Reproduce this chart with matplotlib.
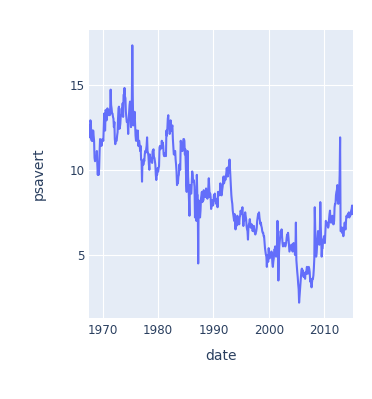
import matplotlib
matplotlib.use("Agg")
import matplotlib.pyplot as plt
import matplotlib.dates as mdates
import pandas as pd

# monthly personal savings rate, starting 1967-07
start_month = "1967-07-01"
psavert = [
    12.6, 12.6, 11.9, 12.9, 12.8, 11.8,
    11.7, 12.3, 11.7, 12.3, 12.0, 11.7, 10.7, 10.5, 10.6, 10.8, 10.6, 11.1,
    10.3, 9.7, 10.2, 9.7, 10.1, 11.1, 11.8, 11.5, 11.6, 11.4, 11.6, 11.8,
    11.8, 11.7, 12.4, 13.3, 12.4, 12.3, 13.5, 13.4, 12.9, 13.1, 13.6, 13.2,
    13.3, 13.3, 13.5, 13.2, 13.6, 14.7, 13.8, 13.6, 13.3, 13.3, 13.1, 13.0,
    12.5, 12.8, 11.8, 11.5, 11.7, 11.7, 11.7, 12.0, 12.2, 13.0, 13.6, 13.7,
    12.4, 12.5, 12.7, 13.2, 13.2, 13.6, 13.2, 13.9, 13.1, 14.4, 14.4, 14.8,
    14.3, 14.2, 13.4, 13.1, 12.8, 12.8, 12.8, 12.1, 12.9, 13.4, 13.8, 14.0,
    13.2, 12.5, 12.7, 14.2, 17.3, 14.3, 12.6, 13.0, 13.0, 13.4, 12.7, 12.0,
    11.7, 12.3, 12.2, 11.7, 12.3, 11.4, 11.7, 11.7, 11.4, 11.1, 11.4, 10.6,
    10.6, 9.3, 10.5, 10.5, 10.3, 10.6, 10.5, 10.9, 11.1, 11.0, 11.2, 11.4,
    11.9, 11.1, 11.0, 10.8, 10.3, 10.0, 10.9, 10.5, 10.6, 10.7, 10.5, 10.4,
    11.1, 11.1, 11.2, 10.7, 10.7, 10.5, 10.3, 9.7, 9.4, 9.7, 9.7, 10.1,
    9.9, 10.1, 10.2, 11.3, 11.4, 11.2, 11.3, 11.3, 11.7, 11.3, 11.6, 11.4,
    10.9, 10.8, 10.8, 10.9, 11.0, 10.8, 12.3, 12.0, 12.4, 13.0, 13.2, 12.5,
    12.7, 12.1, 12.2, 12.9, 12.3, 12.3, 12.5, 12.6, 11.8, 11.3, 10.9, 10.9,
    11.1, 11.1, 10.6, 10.3, 9.9, 9.1, 9.6, 9.2, 9.6, 9.7, 10.3, 10.1,
    10.0, 11.7, 11.5, 11.5, 11.1, 11.1, 11.6, 11.8, 11.8, 11.7, 10.9, 11.2,
    10.3, 9.1, 8.7, 9.9, 11.1, 9.6, 9.1, 8.2, 7.3, 9.1, 9.0, 8.6,
    8.6, 9.3, 9.9, 9.7, 9.3, 9.4, 9.3, 9.0, 7.2, 8.4, 8.8, 7.0,
    9.7, 8.5, 8.5, 4.5, 8.2, 7.7, 7.5, 7.2, 7.6, 8.3, 8.5, 8.7,
    8.1, 8.6, 8.2, 8.8, 8.4, 8.4, 8.6, 8.4, 8.9, 8.6, 8.4, 8.3,
    8.5, 9.0, 9.5, 9.0, 8.4, 8.6, 8.4, 7.7, 7.9, 8.2, 8.2, 7.9,
    8.0, 8.5, 8.5, 8.6, 8.2, 8.2, 8.0, 8.1, 8.3, 7.8, 8.7, 8.5,
    8.7, 8.5, 8.6, 9.2, 8.8, 8.5, 8.5, 8.8, 9.0, 9.3, 9.6, 9.2,
    9.3, 9.6, 9.4, 9.6, 9.8, 10.1, 9.8, 9.6, 9.8, 10.2, 10.1, 10.6,
    10.0, 9.3, 9.0, 8.5, 8.2, 8.0, 7.6, 7.4, 7.2, 7.0, 7.4, 6.9,
    6.5, 7.2, 6.7, 7.0, 7.3, 6.9, 6.8, 7.0, 6.8, 7.2, 7.3, 7.6,
    7.5, 7.4, 7.6, 7.8, 7.3, 6.7, 7.1, 7.0, 7.3, 7.5, 7.3, 7.1,
    6.7, 6.5, 6.4, 5.9, 6.6, 6.8, 6.9, 7.1, 6.8, 6.6, 6.7, 6.8,
    6.6, 6.4, 6.5, 6.7, 6.7, 6.4, 6.3, 6.2, 6.3, 6.4, 6.6, 7.0,
    7.2, 7.4, 7.4, 7.5, 7.2, 7.0, 6.8, 6.9, 6.7, 6.6, 6.4, 6.3,
    6.3, 6.1, 6.1, 5.7, 5.4, 5.2, 5.0, 4.9, 4.3, 5.0, 4.8, 4.6,
    5.4, 5.0, 4.8, 5.1, 5.1, 5.0, 5.2, 5.0, 4.5, 4.3, 4.6, 4.8,
    5.3, 5.3, 5.5, 5.1, 4.9, 5.2, 5.6, 7.0, 6.4, 3.5, 4.9, 5.5,
    5.8, 6.1, 6.4, 6.2, 6.5, 6.1, 5.7, 5.5, 5.6, 5.6, 5.7, 5.6,
    5.5, 5.6, 5.7, 6.0, 6.2, 5.9, 6.3, 6.0, 5.6, 5.2, 5.3, 5.4,
    5.5, 5.6, 5.6, 5.3, 5.2, 5.6, 5.7, 5.5, 5.4, 5.0, 5.3, 6.9,
    4.7, 4.3, 4.0, 3.7, 3.3, 3.0, 2.2, 2.6, 3.0, 3.4, 3.8, 4.1,
    4.2, 4.0, 4.1, 3.8, 3.7, 3.9, 3.8, 3.6, 4.0, 3.9, 4.1, 4.3,
    3.9, 3.9, 4.1, 4.3, 4.2, 4.0, 3.5, 3.4, 3.6, 3.1, 3.4, 3.6,
    3.6, 3.8, 4.2, 4.8, 7.8, 6.5, 5.2, 4.9, 5.1, 5.6, 6.0, 6.4,
    6.3, 5.9, 5.6, 6.3, 8.1, 6.7, 5.7, 4.9, 5.4, 5.4, 5.9, 5.9,
    6.1, 5.8, 5.7, 6.4, 7.0, 6.9, 6.8, 6.9, 6.7, 6.6, 6.7, 7.1,
    7.4, 7.6, 7.0, 6.9, 6.9, 7.2, 7.3, 7.2, 6.8, 6.8, 7.0, 7.8,
    8.0, 8.0, 8.5, 8.7, 8.8, 9.1, 8.2, 8.0, 8.2, 8.8, 9.7, 11.9,
    6.4, 6.4, 6.6, 6.3, 6.4, 6.6, 6.1, 6.4, 6.6, 6.9, 6.5, 6.5,
    7.1, 7.3, 7.2, 7.3, 7.4, 7.4, 7.5, 7.2, 7.4, 7.3, 7.4, 7.6,
    7.7, 7.9, 7.4, 7.6,
]
dates = pd.date_range(start_month, periods=len(psavert), freq="MS")

x_ticks = [1970, 1980, 1990, 2000, 2010]
y_ticks = [5, 10, 15]

BG = "#E5ECF6"
LINE = "#636EFA"
TXT = "#2a3f5f"

plt.rcParams['font.family'] = ['DejaVu Sans']

fig = plt.figure(figsize=(3.72, 3.99), dpi=100)
ax = fig.add_axes([89 / 372, 1 - 318 / 399, (353 - 89) / 372, (318 - 30) / 399])
ax.set_facecolor(BG)
ax.plot(dates, psavert, color=LINE, linewidth=1.5, solid_joinstyle="round")

ax.set_xlim(dates[0], dates[-1])
ax.set_ylim(1.3, 18.2)
ax.set_xticks([pd.Timestamp(f"{y}-01-01") for y in x_ticks])
ax.xaxis.set_major_formatter(mdates.DateFormatter("%Y"))
ax.set_yticks(y_ticks)

ax.grid(True, color="white", linewidth=0.8)
ax.set_axisbelow(True)
for s in ax.spines.values():
    s.set_visible(False)
ax.tick_params(axis="x", length=0, labelsize=8.6, labelcolor=TXT, pad=4)
ax.tick_params(axis="y", length=0, labelsize=8.6, labelcolor=TXT, pad=3)

ax.set_xlabel("date", fontsize=10, color=TXT, va="center")
ax.set_ylabel("psavert", fontsize=10, color=TXT, va="center")
ax.xaxis.set_label_coords(0.5, (318 - 356) / 288)
ax.yaxis.set_label_coords((39 - 89) / 264, 0.5)

fig.savefig("out.png", dpi=100)
